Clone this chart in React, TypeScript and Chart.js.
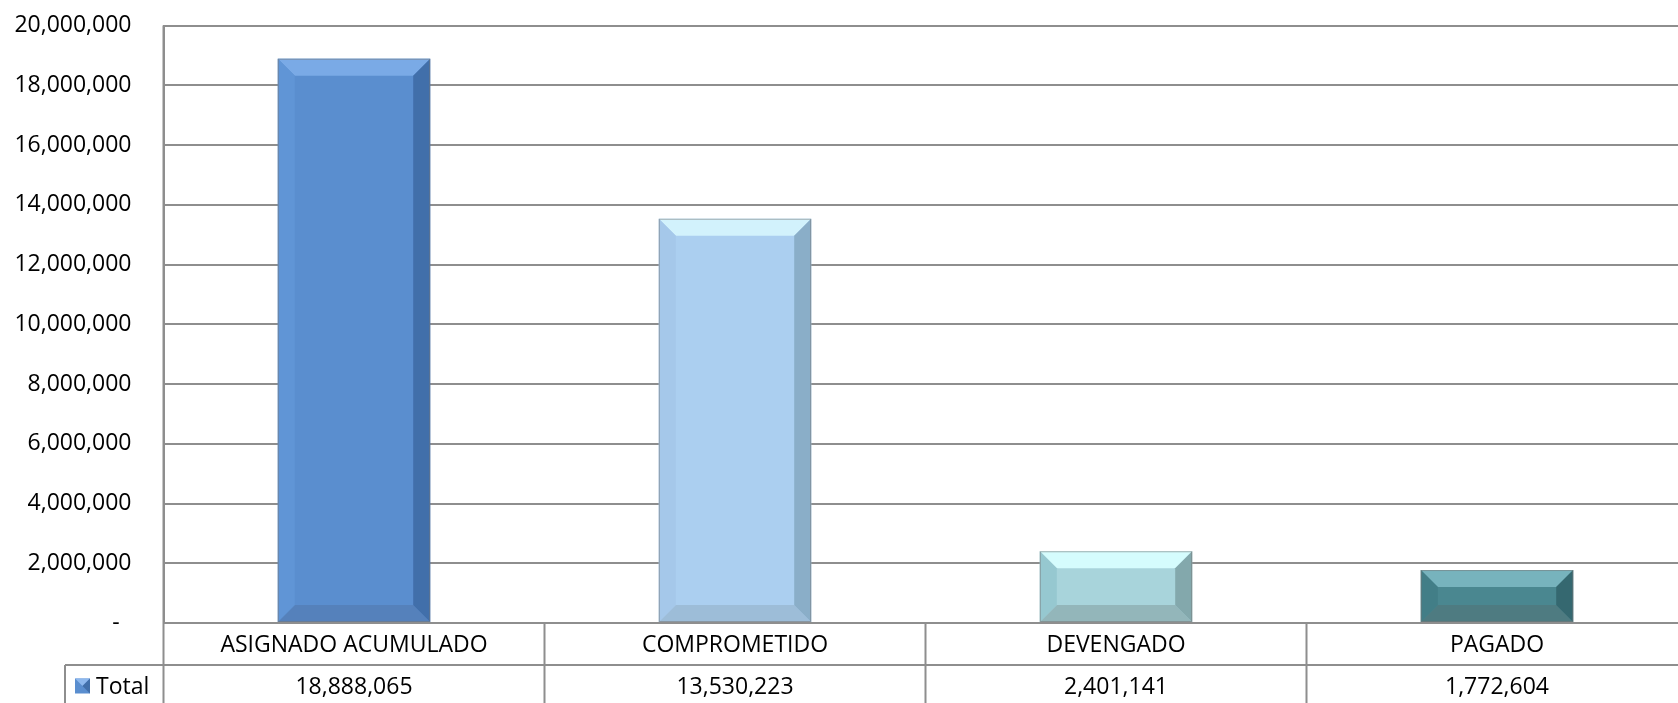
import React, { useEffect, useRef } from 'react';
import { Chart, registerables } from 'chart.js';

Chart.register(...registerables);

// ---- Data ----
const categories: string[] = ['ASIGNADO ACUMULADO', 'COMPROMETIDO', 'DEVENGADO', 'PAGADO'];
const totals: number[] = [18888065, 13530223, 2401141, 1772604];
const seriesLabel = 'Total';
const yMin = 0;
const yMax = 20000000;
const yStep = 2000000;

// ---- Styles ----
const faceColors = ['#5A8ECF', '#ABCFF0', '#A8D4DB', '#4A8790'];
const topColors = ['#7AAAE6', '#D2F2FC', '#D5FCFD', '#77B3BD'];
const leftColors = ['#6095D6', '#A5C8EA', '#96C8D0', '#427E87'];
const rightColors = ['#416FAA', '#8AAEC8', '#83A8AC', '#356870'];
const bottomColors = ['#5581BB', '#9DBDD8', '#93B6BA', '#4E7B81'];
const lineColor = '#8E8E8E';
const FONT = '"Open Sans", "Noto Sans", sans-serif';
const FONT_SIZE = 23;

const fmt = (v: number) => v.toLocaleString('en-US');

const bevelPlugin = {
  id: 'bevelBars',
  afterDatasetsDraw(chart: any) {
    const ctx = chart.ctx;
    const meta = chart.getDatasetMeta(0);
    meta.data.forEach((bar: any, i: number) => {
      const p = bar.getProps(['x', 'y', 'base', 'width'], true);
      const l = p.x - p.width / 2;
      const r = p.x + p.width / 2;
      const t = Math.min(p.y, p.base);
      const bt = Math.max(p.y, p.base);
      const b = Math.min(17, (bt - t) / 2, p.width / 2);
      const poly = (pts: number[][], color: string) => {
        ctx.beginPath();
        ctx.moveTo(pts[0][0], pts[0][1]);
        for (let k = 1; k < pts.length; k++) ctx.lineTo(pts[k][0], pts[k][1]);
        ctx.closePath();
        ctx.fillStyle = color;
        ctx.fill();
      };
      ctx.save();
      poly([[l, t], [r, t], [r - b, t + b], [l + b, t + b]], topColors[i]);
      poly([[l, bt], [r, bt], [r - b, bt - b], [l + b, bt - b]], bottomColors[i]);
      poly([[l, t], [l + b, t + b], [l + b, bt - b], [l, bt]], leftColors[i]);
      poly([[r, t], [r - b, t + b], [r - b, bt - b], [r, bt]], rightColors[i]);
      ctx.strokeStyle = 'rgba(120,120,120,0.55)';
      ctx.lineWidth = 1;
      ctx.strokeRect(l + 0.5, t + 0.5, r - l - 1, bt - t - 1);
      ctx.restore();
    });
  },
};

const tablePlugin = {
  id: 'dataTable',
  afterDraw(chart: any) {
    const { ctx, chartArea } = chart;
    const xs = chart.scales.x;
    const n = categories.length;
    const colW = (chartArea.right - chartArea.left) / n;
    const rowH = 42;
    const legendCellW = 98.5;
    const r1Top = chartArea.bottom;
    const r1Bot = r1Top + rowH;
    const r2Bot = r1Bot + rowH;
    const H = chart.height;
    ctx.save();
    ctx.strokeStyle = lineColor;
    ctx.lineWidth = 2;
    ctx.beginPath();
    ctx.moveTo(chartArea.left - legendCellW, r1Bot);
    ctx.lineTo(chartArea.right, r1Bot);
    ctx.moveTo(chartArea.left - legendCellW, r2Bot);
    ctx.lineTo(chartArea.right, r2Bot);
    for (let i = 0; i <= n; i++) {
      const xx = chartArea.left + i * colW;
      ctx.moveTo(xx, i === 0 ? chartArea.top : r1Top);
      ctx.lineTo(xx, Math.max(r2Bot, H));
    }
    ctx.moveTo(chartArea.left - legendCellW, r1Bot);
    ctx.lineTo(chartArea.left - legendCellW, Math.max(r2Bot, H));
    ctx.stroke();

    ctx.fillStyle = '#000';
    ctx.font = `${FONT_SIZE}px ${FONT}`;
    ctx.textAlign = 'center';
    ctx.textBaseline = 'middle';
    categories.forEach((c, i) => {
      const cx = xs.getPixelForValue(i);
      ctx.fillText(c, cx, (r1Top + r1Bot) / 2 + 1);
      ctx.fillText(fmt(totals[i]), cx, (r1Bot + r2Bot) / 2 + 1);
    });

    const kx = chartArea.left - legendCellW + 10;
    const ky = (r1Bot + r2Bot) / 2 - 7.5;
    const ks = 15;
    ctx.fillStyle = faceColors[0];
    ctx.fillRect(kx, ky, ks, ks);
    ctx.beginPath();
    ctx.moveTo(kx, ky);
    ctx.lineTo(kx + ks, ky);
    ctx.lineTo(kx + ks / 2, ky + ks / 2);
    ctx.closePath();
    ctx.fillStyle = '#8DB8EE';
    ctx.fill();
    ctx.beginPath();
    ctx.moveTo(kx + ks, ky);
    ctx.lineTo(kx + ks, ky + ks);
    ctx.lineTo(kx + ks / 2, ky + ks / 2);
    ctx.closePath();
    ctx.fillStyle = rightColors[0];
    ctx.fill();
    ctx.fillStyle = '#000';
    ctx.textAlign = 'left';
    ctx.fillText(seriesLabel, kx + ks + 6, (r1Bot + r2Bot) / 2 + 1);
    ctx.restore();
  },
};

export default function App() {
  const ref = useRef<HTMLCanvasElement | null>(null);
  useEffect(() => {
    document.body.style.margin = '0';
    const canvas = ref.current;
    if (!canvas) return;
    const chart = new Chart(canvas, {
      type: 'bar',
      data: {
        labels: categories,
        datasets: [
          {
            label: seriesLabel,
            data: totals,
            backgroundColor: faceColors,
            borderWidth: 0,
            barPercentage: 0.4,
            categoryPercentage: 1,
          },
        ],
      },
      options: {
        responsive: false,
        animation: false,
        devicePixelRatio: 1,
        layout: { padding: { left: 0, right: 12.5, top: 25.5, bottom: 80 } },
        plugins: { legend: { display: false }, tooltip: { enabled: false } },
        scales: {
          x: { display: false, offset: true },
          y: {
            min: yMin,
            max: yMax,
            afterFit: (s: any) => {
              s.width = 163.5;
              s.paddingTop = 0;
              s.paddingBottom = 0;
            },
            ticks: {
              stepSize: yStep,
              padding: 32,
              color: '#000',
              font: { family: FONT, size: FONT_SIZE },
              callback: (v: any) => (Number(v) === 0 ? '-  ' : fmt(Number(v))),
            },
            grid: { color: lineColor, lineWidth: 2, drawTicks: false },
            border: { display: true, color: lineColor, width: 2 },
          },
        },
      },
      plugins: [bevelPlugin, tablePlugin],
    });
    return () => chart.destroy();
  }, []);
  return (
    <div style={{ position: 'fixed', left: 0, top: 0, width: 1678, height: 703, overflow: 'hidden', background: '#fff' }}>
      <canvas ref={ref} width={1700} height={703} style={{ display: 'block' }} />
    </div>
  );
}
